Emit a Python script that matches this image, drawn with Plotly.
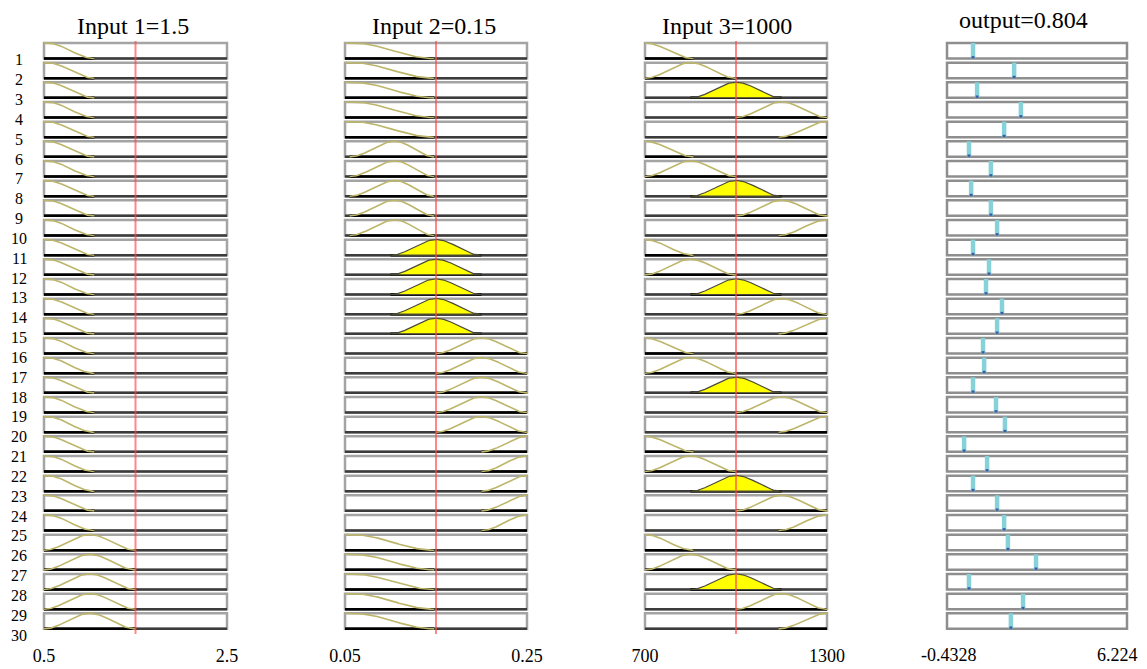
import numpy as np
import plotly.graph_objects as go

# page is rendered with an 8px body margin; compensate so the figure fills the window
OFF = 8
W, H = 1147 - OFF, 669 - OFF

# ---------------- data ----------------
rule_labels = ["1", "2", "3", "4", "5", "6", "7", "8", "9", "10",
               "11", "12", "13", "14", "15", "16", "17", "18", "19", "20",
               "21", "22", "23", "24", "25", "26", "27", "28", "29", "30"]

# membership functions: [left foot, left shoulder, right shoulder, right foot]
in1_title = "Input 1=1.5"
in1_value = 1.5
in1_range = [0.5, 2.5]
in1_ticks = ["0.5", "2.5"]
in1_mfs = [[0.5, 0.5, 0.53, 1.05], [0.5, 1.0, 1.0, 1.5], [1.0, 1.5, 1.5, 2.0],
           [1.5, 2.0, 2.0, 2.5], [2.0, 2.5, 2.5, 2.5]]
in1_rule_mf = [1, 1, 1, 1, 1, 1, 1, 1, 1, 1,
               1, 1, 1, 1, 1, 1, 1, 1, 1, 1,
               1, 1, 1, 1, 1, 2, 2, 2, 2, 2]

in2_title = "Input 2=0.15"
in2_value = 0.15
in2_range = [0.05, 0.25]
in2_ticks = ["0.05", "0.25"]
in2_mfs = [[0.05, 0.05, 0.058, 0.148], [0.055, 0.105, 0.105, 0.148], [0.10, 0.15, 0.15, 0.20],
           [0.15, 0.20, 0.20, 0.25], [0.20, 0.25, 0.25, 0.25]]
in2_rule_mf = [1, 1, 1, 1, 1, 2, 2, 2, 2, 2,
               3, 3, 3, 3, 3, 4, 4, 4, 4, 4,
               5, 5, 5, 5, 5, 1, 1, 1, 1, 1]

in3_title = "Input 3=1000"
in3_value = 1000
in3_range = [700, 1300]
in3_ticks = ["700", "1300"]
in3_mfs = [[700, 700, 700, 860], [700, 850, 850, 1000], [850, 1000, 1000, 1150],
           [1000, 1150, 1150, 1300], [1140, 1300, 1300, 1300]]
in3_rule_mf = [1, 2, 3, 4, 5, 1, 2, 3, 4, 5,
               1, 2, 3, 4, 5, 1, 2, 3, 4, 5,
               1, 2, 3, 4, 5, 1, 2, 3, 4, 5]

out_title = "output=0.804"
out_range = [-0.4328, 6.224]
out_ticks = ["-0.4328", "6.224"]
out_rule_values = [0.53, 2.05, 0.68, 2.30, 1.68, 0.38, 1.19, 0.46, 1.19, 1.42,
                   0.53, 1.12, 1.01, 1.60, 1.42, 0.90, 0.94, 0.53, 1.38, 1.71,
                   0.20, 1.05, 0.53, 1.42, 1.68, 1.82, 2.86, 0.38, 2.38, 1.93]

# ---------------- styling / geometry ----------------
FONT = "Liberation Serif"
N = len(rule_labels)
panel_px = [(44, 227), (345, 527), (645, 827), (947, 1127)]   # screen pixels
PADPX = 3
BOX_LO, BOX_HI = 0.16, 0.95
MF_COLOR = "#bdb56a"
BOX_COLOR = "#a4a4a4"


def px_x(X):
    return (X - OFF) / W


def px_y(Y):
    # plot area spans screen y 39..635
    return (635 - Y) / 596.0


inputs = [
    dict(title=in1_title, value=in1_value, rng=in1_range, ticks=in1_ticks,
         mfs=in1_mfs, rule_mf=in1_rule_mf),
    dict(title=in2_title, value=in2_value, rng=in2_range, ticks=in2_ticks,
         mfs=in2_mfs, rule_mf=in2_rule_mf),
    dict(title=in3_title, value=in3_value, rng=in3_range, ticks=in3_ticks,
         mfs=in3_mfs, rule_mf=in3_rule_mf),
]


def mf(x, prm):
    a, b, c, d = prm
    x = np.atleast_1d(np.asarray(x, dtype=float))
    y = np.zeros_like(x)
    y[(x >= b) & (x <= c)] = 1.0
    if b > a:
        m = (x >= a) & (x < b)
        y[m] = 0.5 * (1 - np.cos(np.pi * (x[m] - a) / (b - a)))
    if d > c:
        m = (x > c) & (x <= d)
        y[m] = 0.5 * (1 + np.cos(np.pi * (x[m] - c) / (d - c)))
    return y


fig = go.Figure()
shapes = []
annotations = []
layout_axes = {}

all_panels = inputs + [dict(title=out_title, rng=out_range, ticks=out_ticks)]
title_px = [(133, 26), (434, 26), (727, 26), (1024, 20)]

for p, panel in enumerate(all_panels):
    L, R = panel_px[p]
    lo, hi = panel["rng"]
    upp = (hi - lo) / (R - L)
    axname = "xaxis" if p == 0 else f"xaxis{p + 1}"
    xref = "x" if p == 0 else f"x{p + 1}"
    is_out = p == 3
    layout_axes[axname] = dict(
        domain=[px_x(L - PADPX), px_x(R + PADPX)],
        range=[lo - PADPX * upp, hi + PADPX * upp],
        anchor="y", showgrid=False, zeroline=False, showline=False,
        automargin=False,
        tickmode="array", tickvals=[lo, hi], ticktext=panel["ticks"],
        showticklabels=not is_out,
        ticks="outside", ticklen=4, tickcolor="rgba(0,0,0,0)",
        tickfont=dict(family=FONT, size=18, color="black"),
        fixedrange=True,
    )
    if is_out:
        annotations.append(dict(text=panel["ticks"][0], xref=xref, x=lo, xshift=2,
                                yref="paper", y=px_y(655), xanchor="center", yanchor="middle",
                                showarrow=False, font=dict(family=FONT, size=18, color="black")))
        annotations.append(dict(text=panel["ticks"][1], xref=xref, x=hi, xshift=13,
                                yref="paper", y=px_y(655), xanchor="right", yanchor="middle",
                                showarrow=False, font=dict(family=FONT, size=18, color="black")))
    # title
    tx, ty = title_px[p]
    annotations.append(dict(
        text=panel["title"], xref="paper", x=px_x(tx),
        yref="paper", y=px_y(ty),
        yanchor="middle", xanchor="center", showarrow=False,
        font=dict(family=FONT, size=24, color="black")))

    for i in range(N):
        b = (N - 1 - i)
        yb, yt = b + BOX_LO, b + BOX_HI
        shapes.append(dict(type="rect", xref=xref, yref="y", x0=lo, x1=hi,
                           y0=yb, y1=yt,
                           line=dict(color=BOX_COLOR if not is_out else "#8e8e8e", width=2.5),
                           fillcolor="white", layer="below"))

    if not is_out:
        base_x, base_y = [], []
        sup_x, sup_y = [], []
        cur_x, cur_y = [], []
        fill_x, fill_y = [], []
        for i in range(N):
            b = (N - 1 - i)
            yb, yt = b + BOX_LO, b + BOX_HI
            prm = panel["mfs"][panel["rule_mf"][i] - 1]
            s0, s1 = max(lo, prm[0]), min(hi, prm[3])
            xs = np.linspace(s0, s1, 90)
            mu = mf(xs, prm)
            base_x += [lo, hi, None]
            base_y += [yb, yb, None]
            sup_x += [s0, s1, None]
            sup_y += [yb, yb, None]
            deg = float(mf(panel["value"], prm)[0])
            if deg > 1e-3:
                clipped = np.minimum(mu, deg)
                fill_x += [s0] + list(xs) + [s1, s0, None]
                fill_y += [yb] + list(yb + clipped * (yt - yb)) + [yb, yb, None]
            else:
                cur_x += list(xs) + [None]
                cur_y += list(yb + mu * (yt - yb)) + [None]
        fig.add_trace(go.Scatter(x=base_x, y=base_y, mode="lines", xaxis=xref, yaxis="y",
                                 line=dict(color="#3c3c3c", width=2.5), hoverinfo="skip"))
        fig.add_trace(go.Scatter(x=sup_x, y=sup_y, mode="lines", xaxis=xref, yaxis="y",
                                 line=dict(color="#000000", width=2.5), hoverinfo="skip"))
        fig.add_trace(go.Scatter(x=cur_x, y=cur_y, mode="lines", xaxis=xref, yaxis="y",
                                 line=dict(color=MF_COLOR, width=1.6), hoverinfo="skip"))
        if fill_x:
            fig.add_trace(go.Scatter(x=fill_x, y=fill_y, mode="lines", fill="toself",
                                     fillcolor="#ffff00", xaxis=xref, yaxis="y",
                                     line=dict(color="#4a4a3a", width=1.2), hoverinfo="skip"))
        shapes.append(dict(type="line", xref=xref, yref="y", x0=panel["value"], x1=panel["value"],
                           y0=-0.1, y1=N + 0.05, line=dict(color="rgba(255,70,70,0.65)", width=2),
                           layer="above"))
    else:
        bx, by, tx2, ty2 = [], [], [], []
        for i in range(N):
            b = (N - 1 - i)
            yb, yt = b + BOX_LO, b + BOX_HI
            v = out_rule_values[i]
            bx += [v, v, None]
            by += [yb, yt, None]
            tx2 += [v, v, None]
            ty2 += [yb, yb + 0.12, None]
        fig.add_trace(go.Scatter(x=bx, y=by, mode="lines", xaxis=xref, yaxis="y",
                                 line=dict(color="#86d2d8", width=4.5), hoverinfo="skip"))
        fig.add_trace(go.Scatter(x=tx2, y=ty2, mode="lines", xaxis=xref, yaxis="y",
                                 line=dict(color="#3a5aa8", width=3), hoverinfo="skip"))

# row labels
for i, lab in enumerate(rule_labels):
    pix = 60 + i * (635 - 60) / (N - 1)
    annotations.append(dict(text=lab, xref="paper", x=px_x(19), yref="paper",
                            y=px_y(pix), xanchor="center", yanchor="middle",
                            showarrow=False, font=dict(family=FONT, size=16, color="black")))

fig.update_layout(
    width=W, height=H, autosize=False,
    margin=dict(l=0, r=0, t=39 - OFF, b=34, autoexpand=False),
    paper_bgcolor="white", plot_bgcolor="white",
    showlegend=False,
    yaxis=dict(range=[-0.1525, N + 0.1525], showgrid=False, zeroline=False,
               showline=False, showticklabels=False, fixedrange=True, automargin=False),
    shapes=shapes, annotations=annotations,
    **layout_axes,
)

fig.write_html("out.html")
